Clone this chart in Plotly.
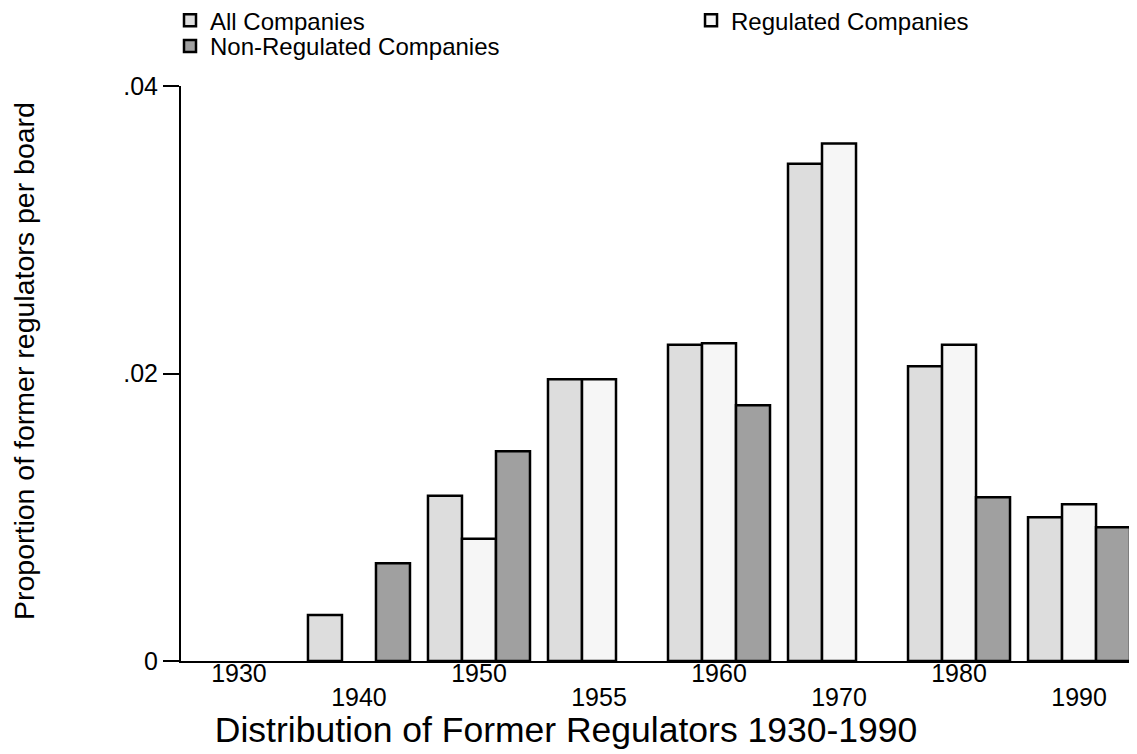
import plotly.graph_objects as go

# decade groups along the x axis
years = ["1930", "1940", "1950", "1955", "1960", "1970", "1980", "1990"]

# proportion of former regulators per board (None = no bar drawn)
all_companies = [None, 0.0032, 0.0115, 0.0196, 0.0220, 0.0346, 0.0205, 0.0100]
regulated = [None, None, 0.0085, 0.0196, 0.0221, 0.0360, 0.0220, 0.0109]
non_regulated = [None, 0.0068, 0.0146, None, 0.0178, None, 0.0114, 0.0093]

y_tickvals = [0, 0.02, 0.04]
y_ticktext = ["0", ".02", ".04"]

FONT = "Liberation Sans, Arial, Helvetica, sans-serif"
pos = list(range(len(years)))
x_range = [-0.483, len(years) - 0.517]

fig = go.Figure()
fig.add_trace(go.Bar(x=pos, y=all_companies, name="All Companies",
                     marker=dict(color="#dddddd", line=dict(color="black", width=2.5)),
                     legend="legend"))
fig.add_trace(go.Bar(x=pos, y=regulated, name="Regulated Companies",
                     marker=dict(color="#f6f6f6", line=dict(color="black", width=2.5)),
                     legend="legend2"))
fig.add_trace(go.Bar(x=pos, y=non_regulated, name="Non-Regulated Companies",
                     marker=dict(color="#a0a0a0", line=dict(color="black", width=2.5)),
                     legend="legend3"))
# empty trace so the second (staggered) label axis gets drawn
fig.add_trace(go.Scatter(x=pos[1::2], y=[None] * len(pos[1::2]), xaxis="x2",
                         mode="none", showlegend=False, hoverinfo="skip"))

leg = dict(orientation="v", xanchor="left", yanchor="top",
           font=dict(size=24, family=FONT, color="black"),
           bgcolor="rgba(0,0,0,0)", borderwidth=0)

fig.update_layout(
    template="none",
    width=1129, height=746,
    margin=dict(l=173, r=0, t=78, b=93, autoexpand=False),
    paper_bgcolor="white", plot_bgcolor="white",
    font=dict(family=FONT, color="black", size=25),
    barmode="group", bargap=0.15, bargroupgap=0,
    showlegend=True,
    legend=dict(leg, x=-0.0115, y=1.153),
    legend2=dict(leg, x=0.5335, y=1.153),
    legend3=dict(leg, x=-0.0115, y=1.108),
    title=dict(text="Distribution of Former Regulators 1930-1990", font=dict(size=35.5, family=FONT),
               x=0.4943, xref="container", xanchor="center",
               y=0.0322, yref="container", yanchor="middle"),
    xaxis=dict(range=x_range, tickvals=pos[0::2], ticktext=years[0::2], tickangle=0,
               showline=True, linecolor="black", linewidth=2, ticks="",
               ticklabelstandoff=-11, automargin=False,
               showgrid=False, zeroline=False, tickfont=dict(size=25)),
    xaxis2=dict(overlaying="x", anchor="y", side="bottom", range=x_range,
                tickvals=pos[1::2], ticktext=years[1::2], tickangle=0, ticklabelstandoff=19,
                showline=False, ticks="", showgrid=False, zeroline=False,
                automargin=False, tickfont=dict(size=25)),
    yaxis=dict(range=[0, 0.04], tickvals=y_tickvals, ticktext=y_ticktext,
               showline=True, linecolor="black", linewidth=2,
               ticks="outside", ticklen=16, tickwidth=2, tickcolor="black",
               showgrid=False, zeroline=False, tickfont=dict(size=25), automargin=False),
    annotations=[dict(text="Proportion of former regulators per board",
                      xref="paper", yref="paper", x=-0.1642, y=0.5217,
                      xanchor="center", yanchor="middle", textangle=-90,
                      showarrow=False, font=dict(size=28.5, family=FONT))],
)

fig.write_html("out.html")
